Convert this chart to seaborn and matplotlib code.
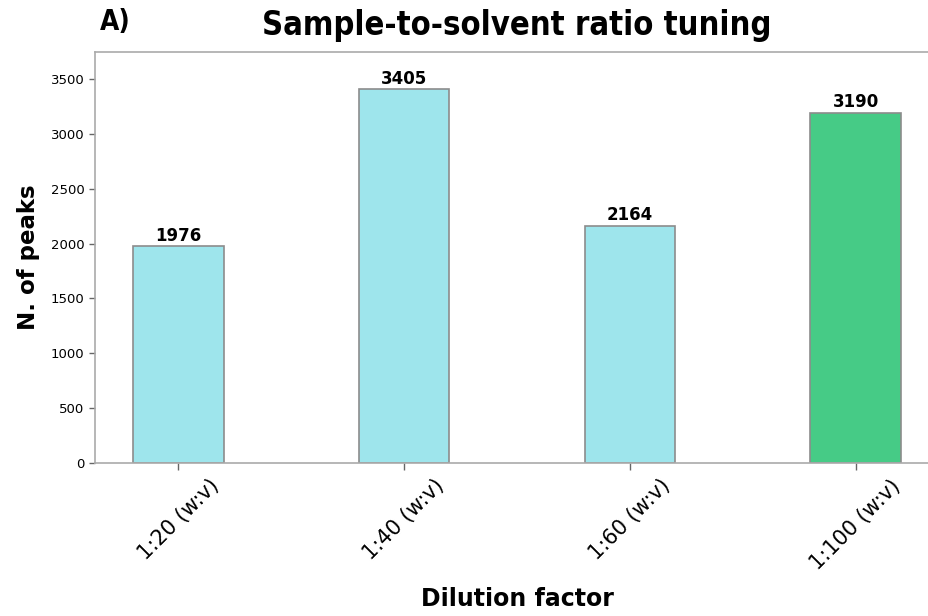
import numpy as np
import pandas as pd
import matplotlib
matplotlib.use("Agg")
import matplotlib.pyplot as plt
import seaborn as sns

# Data
dilutions = ["1:20 (w:v)", "1:40 (w:v)", "1:60 (w:v)", "1:100 (w:v)"]
n_peaks = [1976, 3405, 2164, 3190]
bar_colors = ["#9ee5ec", "#9ee5ec", "#9ee5ec", "#46cb86"]

df = pd.DataFrame({"Dilution": dilutions, "Peaks": n_peaks})

sns.set_style("white")
plt.rcParams["font.family"] = ["DejaVu Sans"]
plt.rcParams["text.color"] = "black"
plt.rcParams["axes.labelcolor"] = "black"
plt.rcParams["xtick.color"] = "black"
plt.rcParams["ytick.color"] = "black"

fig = plt.figure(figsize=(9.29, 6.16), dpi=100)
ax = fig.add_axes([95 / 929, 1 - 463 / 616, (939 - 95) / 929, (463 - 52) / 616])

sns.barplot(data=df, x="Dilution", y="Peaks", hue="Dilution", palette=bar_colors,
            saturation=1, legend=False, width=0.4, edgecolor="#8c8c8c", linewidth=1.2, ax=ax)

for i, v in enumerate(n_peaks):
    ax.text(i, v + 15, str(v), ha="center", va="bottom", fontsize=12, fontweight="bold")

ax.set_xlim(-0.37, 3.37)
ax.set_ylim(0, max(n_peaks) * 1.1)
ax.set_yticks(np.arange(0, 3501, 500))

for s in ax.spines.values():
    s.set_color("#aaaaaa")
    s.set_linewidth(1.2)

ax.tick_params(axis="y", labelsize=9.5, length=4, width=1, color="#666666", left=True)
ax.tick_params(axis="x", labelsize=15, length=5, width=1, color="#666666", bottom=True, pad=4)
plt.setp(ax.get_xticklabels(), rotation=45, ha="center", rotation_mode="default")

ax.set_xlabel("Dilution factor", fontsize=17, fontweight="bold", labelpad=10)
ax.set_ylabel("N. of peaks", fontsize=16.5, fontweight="bold", labelpad=8)

fig.text(517 / 929, 1 - 25 / 616, "Sample-to-solvent ratio tuning", ha="center", va="center",
         fontsize=23.5, fontweight="bold", fontstretch="condensed")
fig.text(100 / 929, 1 - 22 / 616, "A)", ha="left", va="center", fontsize=20, fontweight="bold",
         fontstretch="condensed")

fig.savefig("out.png", dpi=100)
